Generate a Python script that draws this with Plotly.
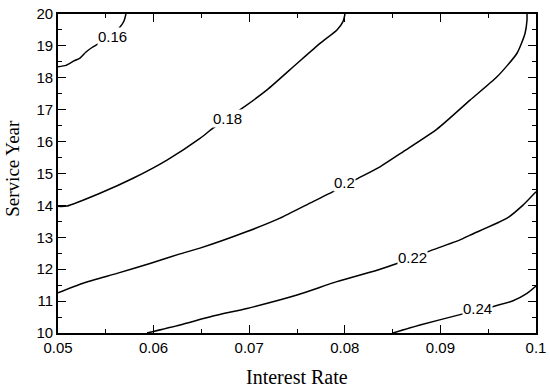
import plotly.graph_objects as go

# Contour levels and their lines
levels = ["0.16", "0.18", "0.2", "0.22", "0.24"]

x_016 = [0.0500, 0.05084, 0.05167, 0.0523, 0.05293, 0.05356, 0.05418, 0.05502, 0.05586, 0.05649, 0.0569, 0.05711]
y_016 = [18.35, 18.39, 18.53, 18.62, 18.81, 18.95, 19.06, 19.25, 19.40, 19.59, 19.78, 20.0]

x_018 = [0.05, 0.05094, 0.05439, 0.05785, 0.0614, 0.06485, 0.06621, 0.06925, 0.07186, 0.075, 0.07741, 0.07918, 0.07981, 0.08002]
y_018 = [13.97, 13.98, 14.38, 14.85, 15.42, 16.10, 16.42, 17.04, 17.62, 18.45, 19.08, 19.50, 19.76, 20.0]

x_020 = [0.05, 0.05262, 0.05617, 0.05962, 0.06276, 0.06485, 0.06977, 0.07322, 0.07667, 0.07877, 0.08107,
         0.08368, 0.08609, 0.08964, 0.0931, 0.09592, 0.09801, 0.09885, 0.09906, 0.09906]
y_020 = [11.26, 11.56, 11.87, 12.18, 12.48, 12.66, 13.18, 13.60, 14.12, 14.43, 14.80,
         15.21, 15.68, 16.39, 17.30, 18.03, 18.77, 19.39, 19.81, 20.0]

x_022 = [0.05931, 0.06276, 0.06621, 0.06977, 0.075, 0.07918, 0.08337, 0.08546, 0.0887, 0.09205, 0.0931, 0.09697, 0.09864, 0.1]
y_022 = [10.0, 10.25, 10.53, 10.77, 11.19, 11.61, 11.97, 12.18, 12.55, 12.92, 13.07, 13.60, 14.01, 14.43]

x_024 = [0.08504, 0.08787, 0.09236, 0.0954, 0.0976, 0.09906, 0.1]
y_024 = [10.0, 10.25, 10.60, 10.82, 11.01, 11.24, 11.47]

# Label positions for each level
label_x = [0.05565, 0.06768, 0.07992, 0.08713, 0.09383]
label_y = [19.31, 16.71, 14.73, 12.38, 10.77]

x_tickvals = [0.05, 0.06, 0.07, 0.08, 0.09, 0.1]
x_ticktext = ["0.05", "0.06", "0.07", "0.08", "0.09", "0.1"]
y_tickvals = [10, 11, 12, 13, 14, 15, 16, 17, 18, 19, 20]
y_ticktext = [str(v) for v in y_tickvals]

lines_x = [x_016, x_018, x_020, x_022, x_024]
lines_y = [y_016, y_018, y_020, y_022, y_024]

fig = go.Figure()
for lx, ly, lev in zip(lines_x, lines_y, levels):
    fig.add_trace(go.Scatter(x=lx, y=ly, mode="lines", name=lev,
                             line=dict(color="black", width=1.5, shape="spline", smoothing=0.6),
                             hoverinfo="skip", showlegend=False))

for lx, ly, lev in zip(label_x, label_y, levels):
    fig.add_annotation(x=lx, y=ly, xref="x", yref="y", text=lev, showarrow=False,
                       bgcolor="white", borderpad=0,
                       font=dict(family="Liberation Sans, Arial, sans-serif", size=15, color="black"))

tickfont = dict(family="Liberation Sans, Arial, sans-serif", size=15, color="black")
serif = "Liberation Serif, Times New Roman, serif"

fig.update_xaxes(range=[0.05, 0.1], tickvals=x_tickvals, ticktext=x_ticktext, automargin=False,
                 ticks="inside", ticklen=8, tickwidth=1.2, tickcolor="black",
                 minor=dict(dtick=0.005, ticks="inside", ticklen=4, tickwidth=1.2, tickcolor="black"),
                 showline=True, linewidth=1.6, linecolor="black", mirror="allticks",
                 showgrid=False, zeroline=False, tickfont=tickfont, ticklabeloverflow="allow")
fig.update_yaxes(range=[10, 20], tickvals=y_tickvals, ticktext=y_ticktext, automargin=False,
                 ticks="inside", ticklen=8, tickwidth=1.2, tickcolor="black",
                 minor=dict(dtick=0.5, ticks="inside", ticklen=4, tickwidth=1.2, tickcolor="black"),
                 showline=True, linewidth=1.6, linecolor="black", mirror="allticks",
                 showgrid=False, zeroline=False, tickfont=tickfont, ticklabeloverflow="allow")

fig.add_annotation(text="Interest Rate", xref="paper", yref="paper", x=0.5, y=-0.138,
                   yanchor="middle", xanchor="center", showarrow=False,
                   font=dict(family=serif, size=20, color="black"))
fig.add_annotation(text="Service Year", xref="paper", yref="paper", x=-0.097, y=0.517,
                   textangle=-90, yanchor="middle", xanchor="center", showarrow=False,
                   font=dict(family=serif, size=19, color="black"))

fig.update_layout(width=550, height=387, margin=dict(l=58, r=14, t=14, b=54),
                  plot_bgcolor="white", paper_bgcolor="white", showlegend=False)

fig.write_html("out.html", config={"displayModeBar": False},
               post_script="document.body.style.margin='0';document.body.style.overflow='hidden';")
